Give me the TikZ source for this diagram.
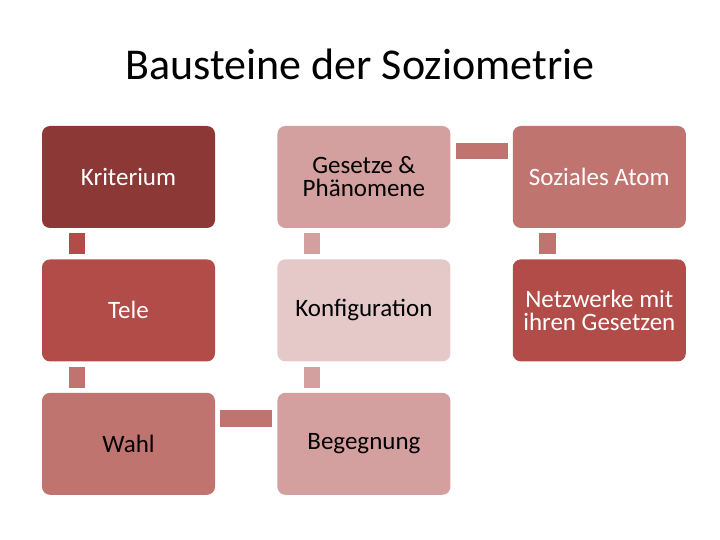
\documentclass[tikz,border=0pt]{standalone}
\usepackage{fontspec}
\setmainfont{Carlito}
\usetikzlibrary{positioning}

\definecolor{rotdunkel}{RGB}{140,56,55}
\definecolor{rotmittel}{RGB}{178,76,72}
\definecolor{rothell}{RGB}{192,116,112}
\definecolor{rosa}{RGB}{212,160,159}
\definecolor{rosahell}{RGB}{229,201,200}

\begin{document}
\begin{tikzpicture}[x=1pt,y=-1pt,node distance=31pt and 62pt,
        baustein/.style={rounded corners=8pt,minimum width=173pt,minimum height=102pt,
          align=center,font=\fontsize{25}{23}\selectfont,inner sep=2pt},
        link/.style={line width=16.5pt,shorten >=5pt,shorten <=5pt}]
  \useasboundingbox (0,0) rectangle (720,540);
  \node[anchor=base,font=\fontsize{44}{50}\selectfont] (titel) at (360,80) {Bausteine der Soziometrie};

  \node[baustein,fill=rotdunkel,text=white] (krit) at (128.5,177) {Kriterium};
  \node[baustein,fill=rotmittel,text=white] (tele) [below=of krit] {Tele};
  \node[baustein,fill=rothell] (wahl) [below=of tele] {Wahl};
  \node[baustein,fill=rosa] (beg) [right=of wahl] {Begegnung};
  \node[baustein,fill=rosahell] (konf) [above=of beg] {Konfiguration};
  \node[baustein,fill=rosa] (gesetz) [above=of konf] {Gesetze \&\\Phänomene};
  \node[baustein,fill=rothell,text=white] (atom) [right=of gesetz] {Soziales Atom};
  \node[baustein,fill=rotmittel,text=white] (netz) [below=of atom] {Netzwerke mit\\ihren Gesetzen};

  \draw[link,rotmittel] ([xshift=35pt]krit.south west) -- ([xshift=35pt]tele.north west);
  \draw[link,rothell] ([xshift=35pt]tele.south west) -- ([xshift=35pt]wahl.north west);
  \draw[link,rothell] ([yshift=-26pt]wahl.north east) -- ([yshift=-26pt]beg.north west);
  \draw[link,rosa] ([xshift=35pt]beg.north west) -- ([xshift=35pt]konf.south west);
  \draw[link,rosa] ([xshift=35pt]konf.north west) -- ([xshift=35pt]gesetz.south west);
  \draw[link,rothell] ([yshift=-25pt]gesetz.north east) -- ([yshift=-25pt]atom.north west);
  \draw[link,rothell] ([xshift=35pt]atom.south west) -- ([xshift=35pt]netz.north west);
\end{tikzpicture}
\end{document}
